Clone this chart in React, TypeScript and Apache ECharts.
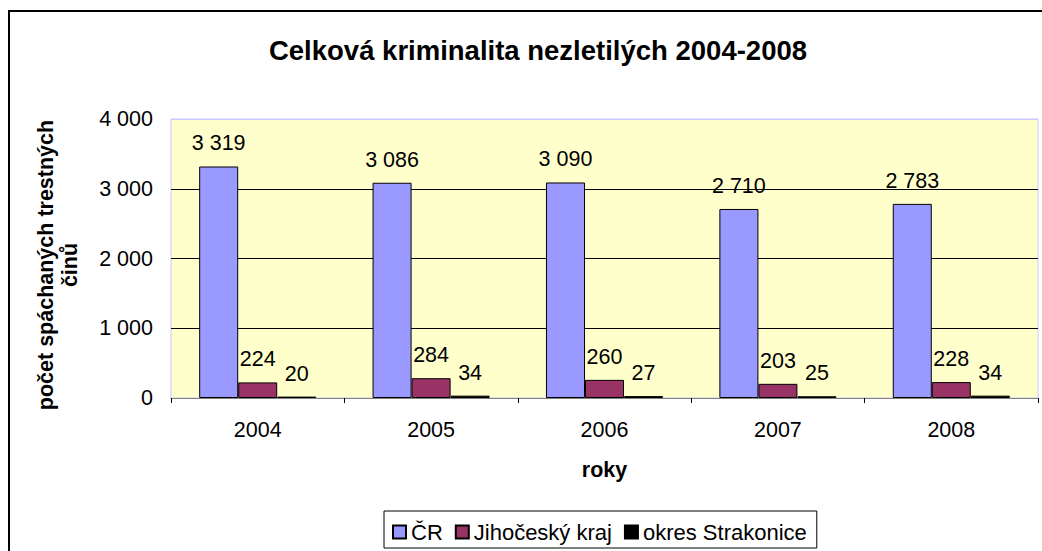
import React, { useEffect, useRef } from "react";
import * as echarts from "echarts";

const years = ["2004", "2005", "2006", "2007", "2008"];
const cr = [3319, 3086, 3090, 2710, 2783];
const jihocesky = [224, 284, 260, 203, 228];
const strakonice = [20, 34, 27, 25, 34];
const seriesNames = ["ČR", "Jihočeský kraj", "okres Strakonice"];
const seriesColors = ["#9999FF", "#993366", "#000000"];

const FONT = "'Liberation Sans', Arial, sans-serif";
const FS = 21.5;

const fmt = (v: number) => {
  const s = String(Math.round(v));
  return s.replace(/\B(?=(\d{3})+(?!\d))/g, " ");
};

export default function App() {
  const ref = useRef<HTMLDivElement>(null);
  useEffect(() => {
    if (!ref.current) return;
    const chart = echarts.init(ref.current, undefined, { renderer: "svg" });
    const data = [cr, jihocesky, strakonice];
    chart.setOption({
      animation: false,
      backgroundColor: "#FFFFFF",
      title: {
        text: "Celková kriminalita nezletilých 2004-2008",
        left: 533,
        textAlign: "center",
        top: 31,
        textStyle: { fontFamily: FONT, fontSize: 27.5, fontWeight: "bold", color: "#000" },
      },
      graphic: [
        {
          type: "rect",
          shape: { x: 9, y: 11, width: 1100, height: 600 },
          style: { fill: "none", stroke: "#000", lineWidth: 2 },
          silent: true,
        },
        {
          type: "text",
          x: 58,
          y: 265,
          rotation: Math.PI / 2,
          style: {
            text: "počet spáchaných trestných\nčinů",
            fontFamily: FONT,
            fontSize: FS,
            fontWeight: "bold",
            fill: "#000",
            align: "center",
            verticalAlign: "middle",
            lineHeight: 24,
          },
        },
      ],
      legend: {
        data: seriesNames,
        icon: "rect",
        left: 384,
        top: 511,
        itemWidth: 13,
        itemHeight: 13,
        itemGap: 12,
        padding: [10, 10, 5, 8],
        borderColor: "#000",
        borderWidth: 1,
        backgroundColor: "#fff",
        textStyle: { fontFamily: FONT, fontSize: 22, color: "#000", lineHeight: 22 },
      },
      grid: {
        left: 171,
        top: 119,
        right: 4,
        bottom: 153,
        show: true,
        backgroundColor: "#FFFFCC",
        borderColor: "#C8C8FF",
        borderWidth: 1,
      },
      xAxis: {
        type: "category",
        data: years,
        name: "roky",
        nameLocation: "middle",
        nameGap: 61,
        nameTextStyle: { fontFamily: FONT, fontSize: FS, fontWeight: "bold", color: "#000" },
        axisLine: { lineStyle: { color: "#808080", width: 1 } },
        axisTick: { show: true, length: 5, lineStyle: { color: "#000" } },
        axisLabel: { fontFamily: FONT, fontSize: FS, color: "#000", margin: 21 },
      },
      yAxis: {
        type: "value",
        min: 0,
        max: 4000,
        interval: 1000,
        axisLine: { show: false },
        axisTick: { show: false },
        splitLine: {
          lineStyle: { color: ["#808080", "#000", "#000", "#000", "#C8C8FF"], width: 1 },
        },
        axisLabel: {
          fontFamily: FONT,
          fontSize: FS,
          color: "#000",
          margin: 18,
          formatter: (v: number) => fmt(v),
        },
      },
      series: seriesNames.map((name, i) => ({
        name,
        type: "bar",
        data: data[i],
        barGap: "0%",
        barCategoryGap: "32.5%",
        itemStyle: { color: seriesColors[i], borderColor: "#000", borderWidth: 1 },
        label: {
          show: true,
          position: "top",
          distance: 12,
          fontFamily: FONT,
          fontSize: FS,
          color: "#000",
          formatter: (p: any) => fmt(p.value),
        },
      })),
    });
    return () => chart.dispose();
  }, []);
  return (
    <div
      ref={ref}
      style={{ position: "absolute", left: 0, top: 0, width: 1042, height: 551 }}
    />
  );
}
